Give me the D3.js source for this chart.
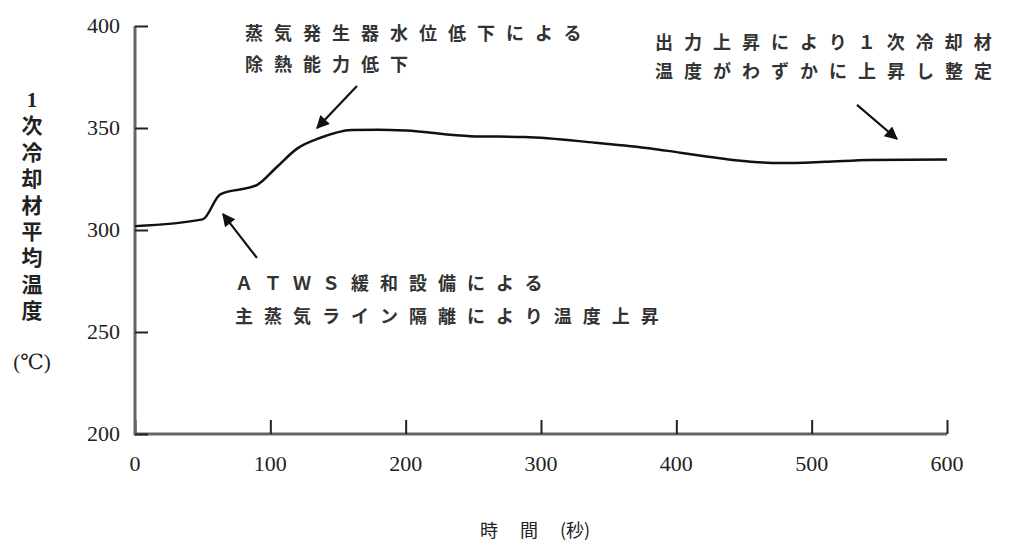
<!DOCTYPE html>
<html>
<head>
<meta charset="utf-8">
<script src="https://cdn.jsdelivr.net/npm/d3@7"></script>
<style>
  body { margin: 0; background: #fff; }
  svg { display: block; }
</style>
</head>
<body>
<div id="chart"></div>
<script>
// Data
const times = [0, 50, 63, 90, 105, 120, 137, 160, 180, 200, 248, 288, 340, 381, 403, 455, 477, 510, 543, 600];
const temps = [301.9, 305.2, 317.5, 322, 331, 340, 345.2, 349, 349.2, 348.8, 346, 345.6, 342.8, 340, 337.9, 333.5, 332.8, 333.4, 334.3, 334.6];
const xTicks = [0, 100, 200, 300, 400, 500, 600];
const yTicks = [200, 250, 300, 350, 400];

// Annotation arrows in data coordinates: [t0, v0, t1, v1] (tail -> tip)
const arrows = [
    [164, 370.6, 134.5, 350],
    [90.1, 286.3, 65, 307.8],
    [533.5, 361.3, 563, 344.6]
];
const notes = [
    {x: 245, y: 40, lines: ["蒸気発生器水位低下による", "除熱能力低下"], step: 31},
    {x: 235, y: 290, lines: ["ＡＴＷＳ緩和設備による", "主蒸気ライン隔離により温度上昇"], step: 33},
    {x: 655, y: 49, lines: ["出力上昇により１次冷却材", "温度がわずかに上昇し整定"], step: 29}
];
const yLabel = "次冷却材平均温度";

const width = 1030, height = 548;
const svg = d3.select("#chart").append("svg")
    .attr("width", width)
    .attr("height", height);

const x = d3.scaleLinear().domain([0, 600]).range([135, 947]);
const y = d3.scaleLinear().domain([200, 400]).range([434, 26]);

const cjk = "'Noto Sans CJK JP', sans-serif";
const serif = "'Liberation Serif', 'DejaVu Serif', serif";

// Axes
const xAxis = svg.append("g")
    .attr("transform", `translate(0, ${y(200)})`)
    .call(d3.axisTop(x).tickValues(xTicks).tickSize(14).tickFormat(""));
xAxis.select(".domain").attr("stroke", "#666").attr("stroke-width", 3)
    .attr("d", `M${x(0)},0H${x(600)}`);
xAxis.selectAll(".tick line").attr("stroke", "#222").attr("stroke-width", 2);

const yAxis = svg.append("g")
    .attr("transform", `translate(${x(0)}, 0)`)
    .call(d3.axisRight(y).tickValues(yTicks).tickSize(13).tickFormat(""));
yAxis.select(".domain").attr("stroke", "#666").attr("stroke-width", 3)
    .attr("d", `M0,${y(400)}V${y(200) + 1.5}`);
yAxis.selectAll(".tick line").attr("stroke", "#222").attr("stroke-width", 2);

// Tick labels
svg.append("g").selectAll("text")
    .data(xTicks)
    .join("text")
    .attr("x", d => x(d))
    .attr("y", y(200) + 37)
    .attr("text-anchor", "middle")
    .attr("font-family", serif)
    .attr("font-size", 22)
    .attr("fill", "#222")
    .text(d => d);

svg.append("g").selectAll("text")
    .data(yTicks)
    .join("text")
    .attr("x", 120)
    .attr("y", d => y(d) + 7)
    .attr("text-anchor", "end")
    .attr("font-family", serif)
    .attr("font-size", 22)
    .attr("fill", "#222")
    .text(d => d);

// Data line
const line = d3.line()
    .x((d, i) => x(times[i]))
    .y(d => y(d))
    .curve(d3.curveMonotoneX);

svg.append("path")
    .datum(temps)
    .attr("fill", "none")
    .attr("stroke", "#111")
    .attr("stroke-width", 2.5)
    .attr("d", line);

// Arrows
svg.append("defs").append("marker")
    .attr("id", "head")
    .attr("viewBox", "0 0 10 10")
    .attr("refX", 9)
    .attr("refY", 5)
    .attr("markerUnits", "userSpaceOnUse")
    .attr("markerWidth", 16)
    .attr("markerHeight", 13)
    .attr("orient", "auto")
    .append("path")
    .attr("d", "M0,0L10,5L0,10z")
    .attr("fill", "#111");

svg.append("g").selectAll("line")
    .data(arrows)
    .join("line")
    .attr("x1", d => x(d[0]))
    .attr("y1", d => y(d[1]))
    .attr("x2", d => x(d[2]))
    .attr("y2", d => y(d[3]))
    .attr("stroke", "#111")
    .attr("stroke-width", 2.2)
    .attr("marker-end", "url(#head)");

// Annotation texts
notes.forEach(n => {
    n.lines.forEach((s, i) => {
        svg.append("text")
            .attr("x", n.x)
            .attr("y", n.y + i * n.step)
            .attr("font-family", cjk)
            .attr("font-weight", 700)
            .attr("font-size", 18)
            .attr("letter-spacing", 11)
            .attr("fill", "#333")
            .text(s);
    });
});

// Y axis title: "1" on top, then the characters written vertically
svg.append("text")
    .attr("x", 32)
    .attr("y", 107)
    .attr("text-anchor", "middle")
    .attr("font-family", serif)
    .attr("font-weight", 700)
    .attr("font-size", 21)
    .attr("fill", "#222")
    .text("1");

svg.append("text")
    .attr("x", 32)
    .attr("y", 115)
    .attr("font-family", cjk)
    .attr("font-weight", 700)
    .attr("font-size", 21)
    .attr("letter-spacing", 5.4)
    .attr("fill", "#222")
    .style("writing-mode", "vertical-rl")
    .style("text-orientation", "upright")
    .text(yLabel);

svg.append("text")
    .attr("x", 32)
    .attr("y", 369)
    .attr("text-anchor", "middle")
    .attr("font-family", serif)
    .attr("font-size", 21)
    .attr("fill", "#222")
    .text("(℃)");

// X axis title
svg.append("text")
    .attr("x", x(300) - 6)
    .attr("y", 537)
    .attr("text-anchor", "middle")
    .attr("font-family", cjk)
    .attr("font-size", 18)
    .attr("fill", "#222")
    .attr("xml:space", "preserve")
    .text("時　 間 　(秒)");
</script>
</body>
</html>
